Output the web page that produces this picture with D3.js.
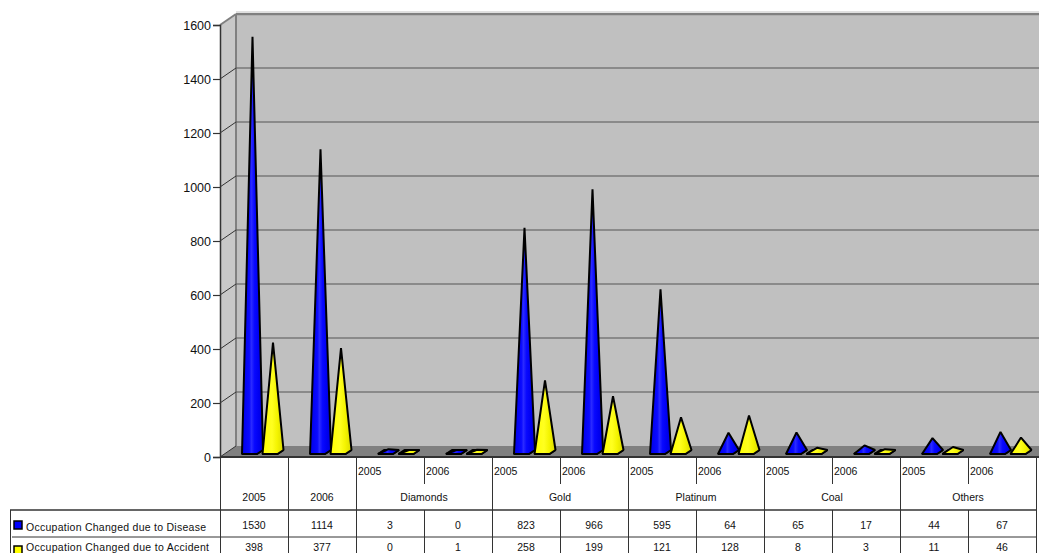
<!DOCTYPE html>
<html><head><meta charset="utf-8">
<script src="https://cdn.jsdelivr.net/npm/d3@7"></script>
<style>html,body{margin:0;padding:0;background:#fff;overflow:hidden}svg{display:block}text{font-family:"Liberation Sans",Arial,sans-serif;fill:#111}</style>
</head><body><svg id="c" width="1039" height="553"></svg>
<script>
const groups = ["", "", "Diamonds", "Gold", "Platinum", "Coal", "Others"];
const groupSpans = [1, 1, 2, 2, 2, 2, 2];
const years = ["2005","2006","2005","2006","2005","2006","2005","2006","2005","2006","2005","2006"];
const diseaseValues = [1530,1114,3,0,823,966,595,64,65,17,44,67];
const accidentValues = [398,377,0,1,258,199,121,128,8,3,11,46];
const seriesNames = ["Occupation Changed due to Disease","Occupation Changed due to Accident"];
const seriesColors = ["#0000ff","#ffff00"];
const yTicks = [0,200,400,600,800,1000,1200,1400,1600];

const svg = d3.select("#c");
const W = 1039, H = 553, dx = 16, dy = 11;
const L = 220, R = 1036, rowTop = 457, rowMid = 484, rowHead = 510, row1 = 537;
const y = d3.scaleLinear().domain([0,1600]).range([457,25]);
const x = d3.scaleBand().domain(d3.range(12)).range([L,R]);
const xs = d3.scaleBand().domain([0,1]).range([22,63]);
const seriesValues = [diseaseValues, accidentValues];

const defs = svg.append("defs");
function grad(id, stops){
  const g = defs.append("linearGradient").attr("id",id).attr("x1",0).attr("x2",1).attr("y1",0).attr("y2",0);
  stops.forEach(s=>g.append("stop").attr("offset",s[0]).attr("stop-color",s[1]));
}
grad("g0",[[0,"#0000e8"],[.35,"#0a0aff"],[.45,"#2a2aff"],[.6,"#0808ff"],[.8,"#0000f0"],[1,"#0000d8"]]);
grad("g1",[[0,"#ffff00"],[.45,"#ffff20"],[.7,"#f4f400"],[1,"#d8d800"]]);

// walls
const yTop = y(1600), yBot = y(0);
svg.append("polygon").attr("points",`${L},${yTop} ${L+dx},${yTop-dy} ${L+dx},${yBot-dy} ${L},${yBot}`).attr("fill","#c8c8c8");
svg.append("rect").attr("x",L+dx).attr("y",yTop-dy).attr("width",W-L-dx).attr("height",yBot-yTop).attr("fill","#c0c0c0");
svg.append("polygon").attr("points",`${L},${yBot} ${L+dx},${yBot-dy} ${W},${yBot-dy} ${W},${yBot} `).attr("fill","#808080");
svg.append("line").attr("x1",L+dx).attr("x2",W).attr("y1",yTop-dy-2.5).attr("y2",yTop-dy-2.5).attr("stroke","#e0e0e0");
svg.append("line").attr("x1",L+dx).attr("x2",W).attr("y1",yTop-dy).attr("y2",yTop-dy).attr("stroke","#808080").attr("stroke-width",2.5);
svg.append("line").attr("x1",L+dx).attr("x2",L+dx).attr("y1",yTop-dy).attr("y2",yBot-dy).attr("stroke","#808080").attr("stroke-width",2);
svg.append("line").attr("x1",L).attr("x2",L+dx).attr("y1",yTop).attr("y2",yTop-dy).attr("stroke","#808080").attr("stroke-width",2);

// gridlines
svg.selectAll(".g").data(yTicks.filter(t=>t>0&&t<1600)).join("line")
  .attr("x1",L+dx).attr("x2",W).attr("y1",d=>y(d)-dy).attr("y2",d=>y(d)-dy).attr("stroke","#555").attr("stroke-width",1.2);
svg.selectAll(".d").data(yTicks.filter(t=>t<1600)).join("line")
  .attr("x1",L).attr("x2",L+dx).attr("y1",d=>y(d)).attr("y2",d=>y(d)-dy).attr("stroke","#333");

// y axis
const ax = svg.append("g").attr("transform",`translate(${L},0)`)
  .call(d3.axisLeft(y).tickValues(yTicks).tickSize(7).tickPadding(2).tickFormat(d3.format("d")));
ax.select(".domain").attr("stroke","#333").attr("stroke-width",1.5);
ax.selectAll("line").attr("stroke","#333").attr("stroke-width",1.2);
ax.selectAll("text").style("font-size","12.5px").attr("fill","#111").attr("font-family","Liberation Sans");

// pyramids
const w = 15, shift = 6, depth = 4, baseY = 454;
d3.range(12).forEach(i=>{
  [0,1].forEach(s=>{
    const v = seriesValues[s][i];
    const x0 = x(i)+xs(s), x1 = x0+w, x2 = x1+shift;
    const ax0 = x0 + (w+shift)/2, ay = y(v)-7;
    const g = svg.append("g").attr("stroke","#000").attr("stroke-width",2).attr("stroke-linejoin","bevel");
    g.append("polygon").attr("points",`${x0},${baseY} ${x1},${baseY} ${x2},${baseY-depth} ${x0+shift},${baseY-depth}`).attr("fill",seriesColors[s]);
    g.append("polygon").attr("points",`${x0},${baseY} ${x1},${baseY} ${x2},${baseY-depth} ${ax0},${ay}`).attr("fill",`url(#g${s})`);
  });
});

// table lines
const lc = "#333";
function ln(a,b,c,d,sw){svg.append("line").attr("x1",a).attr("x2",c).attr("y1",b).attr("y2",d).attr("stroke",lc).attr("stroke-width",sw||1);}
ln(L,rowTop,W,rowTop,2);
ln(10,rowHead,R,rowHead,1.5);
ln(12,row1,R,row1,1);
ln(10.5,rowHead,10.5,H);
d3.range(13).forEach(i=>{
  const xp = L+i*x.step()+.5;
  const isGroupEdge = i<=2 || i%2===0;
  if(isGroupEdge){ ln(xp,rowTop,xp,H); }
  else { ln(xp,rowTop,xp,rowMid); ln(xp,rowHead,xp,H); }
});

// header texts
years.forEach((t,i)=>{
  if(i<2){
    svg.append("text").attr("x",x(i)+x.bandwidth()/2).attr("y",501).attr("text-anchor","middle").style("font-size","10.5px").text(t);
  } else {
    svg.append("text").attr("x",x(i)+2).attr("y",475).style("font-size","10.5px").text(t);
  }
});
let col = 0;
groups.forEach((g,k)=>{
  const span = groupSpans[k];
  if(g) svg.append("text").attr("x",x(col)+span*x.step()/2).attr("y",501).attr("text-anchor","middle").style("font-size","10.5px").text(g);
  col += span;
});

// data rows
const rowY = [529,551];
const legendY = [531,551];
seriesValues.forEach((vals,s)=>{
  vals.forEach((v,i)=>{
    svg.append("text").attr("x",x(i)+x.bandwidth()/2).attr("y",rowY[s]).attr("text-anchor","middle").style("font-size","10.5px").text(v);
  });
  svg.append("rect").attr("x",14).attr("y",s?546:521).attr("width",8).attr("height",8)
    .attr("fill",seriesColors[s]).attr("stroke","#000").attr("stroke-width",1.5);
  svg.append("text").attr("x",26).attr("y",legendY[s]).style("font-size","10.5px")
    .attr("textLength",s?183:180).attr("lengthAdjust","spacing").text(seriesNames[s]);
});
</script></body></html>
